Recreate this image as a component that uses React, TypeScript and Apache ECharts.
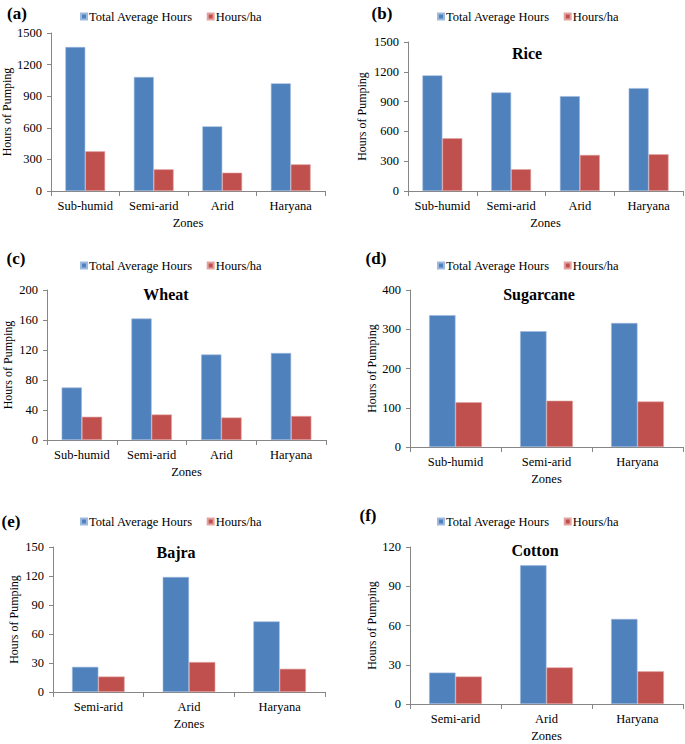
import React, { useEffect, useRef } from "react";
import * as echarts from "echarts";

const seriesNames = ["Total Average Hours", "Hours/ha"];
const colors = ["#4F81BD", "#C0504D"];

const zones4 = ["Sub-humid", "Semi-arid", "Arid", "Haryana"];
const zonesSugar = ["Sub-humid", "Semi-arid", "Haryana"];
const zonesDry = ["Semi-arid", "Arid", "Haryana"];

const allTotal = [1367, 1082, 614, 1022];
const allPerHa = [377, 206, 174, 253];
const riceTotal = [1164, 992, 955, 1036];
const ricePerHa = [531, 219, 363, 370];
const wheatTotal = [70, 162, 114, 116];
const wheatPerHa = [31, 34, 30, 32];
const sugarTotal = [336, 295, 316];
const sugarPerHa = [114, 118, 116];
const bajraTotal = [26, 119, 73];
const bajraPerHa = [16, 31, 24];
const cottonTotal = [24, 106, 65];
const cottonPerHa = [21, 28, 25];

const panelLabels = ["(a)", "(b)", "(c)", "(d)", "(e)", "(f)"];
const cropTitles = ["", "Rice", "Wheat", "Sugarcane", "Bajra", "Cotton"];
const yMax = [1500, 1500, 200, 400, 150, 120];
const yInterval = [300, 300, 40, 100, 30, 30];

const panels = [
  { cats: zones4, total: allTotal, perHa: allPerHa },
  { cats: zones4, total: riceTotal, perHa: ricePerHa },
  { cats: zones4, total: wheatTotal, perHa: wheatPerHa },
  { cats: zonesSugar, total: sugarTotal, perHa: sugarPerHa },
  { cats: zonesDry, total: bajraTotal, perHa: bajraPerHa },
  { cats: zonesDry, total: cottonTotal, perHa: cottonPerHa },
];

// layout (pixels)
const grids = [
  { left: 51, top: 33, width: 274, height: 158, yGap: 37 },
  { left: 408, top: 42, width: 275, height: 149, yGap: 40 },
  { left: 47, top: 290, width: 279, height: 150, yGap: 33 },
  { left: 410, top: 290, width: 273, height: 157, yGap: 32 },
  { left: 53, top: 547, width: 272, height: 145, yGap: 33 },
  { left: 410, top: 547, width: 273, height: 157, yGap: 32 },
];
const legendPos = [
  { left: 80, top: 10 },
  { left: 437, top: 10 },
  { left: 80, top: 259 },
  { left: 437, top: 259 },
  { left: 80, top: 515 },
  { left: 437, top: 515 },
];
const labelPos = [
  { x: 17, y: 13 },
  { x: 382, y: 13 },
  { x: 16, y: 258 },
  { x: 376, y: 258 },
  { x: 11, y: 521 },
  { x: 368, y: 515 },
];
const titlePos = [
  { x: 0, y: 0 },
  { x: 527, y: 53 },
  { x: 166, y: 294 },
  { x: 539, y: 294 },
  { x: 176, y: 552 },
  { x: 535, y: 550 },
];

const FONT = "Liberation Serif";
const AXIS_COLOR = "#868686";

export default function App() {
  const ref = useRef<HTMLDivElement>(null);
  useEffect(() => {
    if (!ref.current) return;
    const chart = echarts.init(ref.current, undefined, { renderer: "svg" });

    const gridOpt = grids.map((g) => ({
      left: g.left,
      top: g.top,
      width: g.width,
      height: g.height,
      containLabel: false,
    }));

    const xAxes = panels.map((p, i) => ({
      type: "category",
      gridIndex: i,
      data: p.cats,
      name: "Zones",
      nameLocation: "middle",
      nameGap: 25,
      nameTextStyle: { fontFamily: FONT, fontSize: 12.5, color: "#000" },
      axisLine: { show: true, lineStyle: { color: AXIS_COLOR, width: 1 } },
      axisTick: { show: true, length: 5, lineStyle: { color: AXIS_COLOR } },
      axisLabel: { fontFamily: FONT, fontSize: 12.5, color: "#000", margin: 8, interval: 0 },
      splitLine: { show: false },
    }));

    const yAxes = panels.map((_, i) => ({
      type: "value",
      gridIndex: i,
      min: 0,
      max: yMax[i],
      interval: yInterval[i],
      name: "Hours of Pumping",
      nameLocation: "middle",
      nameGap: grids[i].yGap,
      nameTextStyle: { fontFamily: FONT, fontSize: 12, color: "#000" },
      axisLine: { show: true, lineStyle: { color: AXIS_COLOR, width: 1 } },
      axisTick: { show: true, length: 4, lineStyle: { color: AXIS_COLOR } },
      axisLabel: {
        fontFamily: FONT,
        fontSize: 12.5,
        color: "#000",
        margin: 9,
        formatter: (v: number) => String(v),
      },
      splitLine: { show: false },
    }));

    const series: any[] = [];
    panels.forEach((p, i) => {
      [p.total, p.perHa].forEach((vals, k) => {
        series.push({
          type: "bar",
          name: seriesNames[k],
          xAxisIndex: i,
          yAxisIndex: i,
          data: vals,
          barGap: "0%",
          barCategoryGap: "42%",
          itemStyle: {
            color: colors[k],
            borderColor: k === 0 ? "#9db9dd" : "#e3a3a1",
            borderWidth: 0.6,
          },
        });
      });
    });

    const legends = legendPos.map((lp) => ({
      left: lp.left,
      top: lp.top,
      orient: "horizontal",
      data: seriesNames.map((n) => ({ name: n, icon: "rect" })),
      itemWidth: 6,
      itemHeight: 6,
      itemGap: 14,
      padding: 0,
      selectedMode: false,
      textStyle: { fontFamily: FONT, fontSize: 12.5, color: "#000", padding: [0, 0, 0, -3] },
    }));

    const graphics: any[] = [];
    labelPos.forEach((lp, i) => {
      graphics.push({
        type: "text",
        x: lp.x,
        y: lp.y,
        style: {
          text: panelLabels[i],
          fontFamily: FONT,
          fontSize: 17,
          fontWeight: "bold",
          fill: "#000",
          textAlign: "center",
          textVerticalAlign: "middle",
        },
      });
    });
    titlePos.forEach((tp, i) => {
      if (!cropTitles[i]) return;
      graphics.push({
        type: "text",
        x: tp.x,
        y: tp.y,
        style: {
          text: cropTitles[i],
          fontFamily: FONT,
          fontSize: 16,
          fontWeight: "bold",
          fill: "#000",
          textAlign: "center",
          textVerticalAlign: "middle",
        },
      });
    });

    chart.setOption({
      animation: false,
      backgroundColor: "#fff",
      textStyle: { fontFamily: FONT },
      grid: gridOpt,
      xAxis: xAxes,
      yAxis: yAxes,
      legend: legends,
      series,
      graphic: graphics,
    } as any);

    return () => chart.dispose();
  }, []);

  return (
    <div
      ref={ref}
      style={{ position: "fixed", left: 0, top: 0, width: 685, height: 744, background: "#fff" }}
    />
  );
}
